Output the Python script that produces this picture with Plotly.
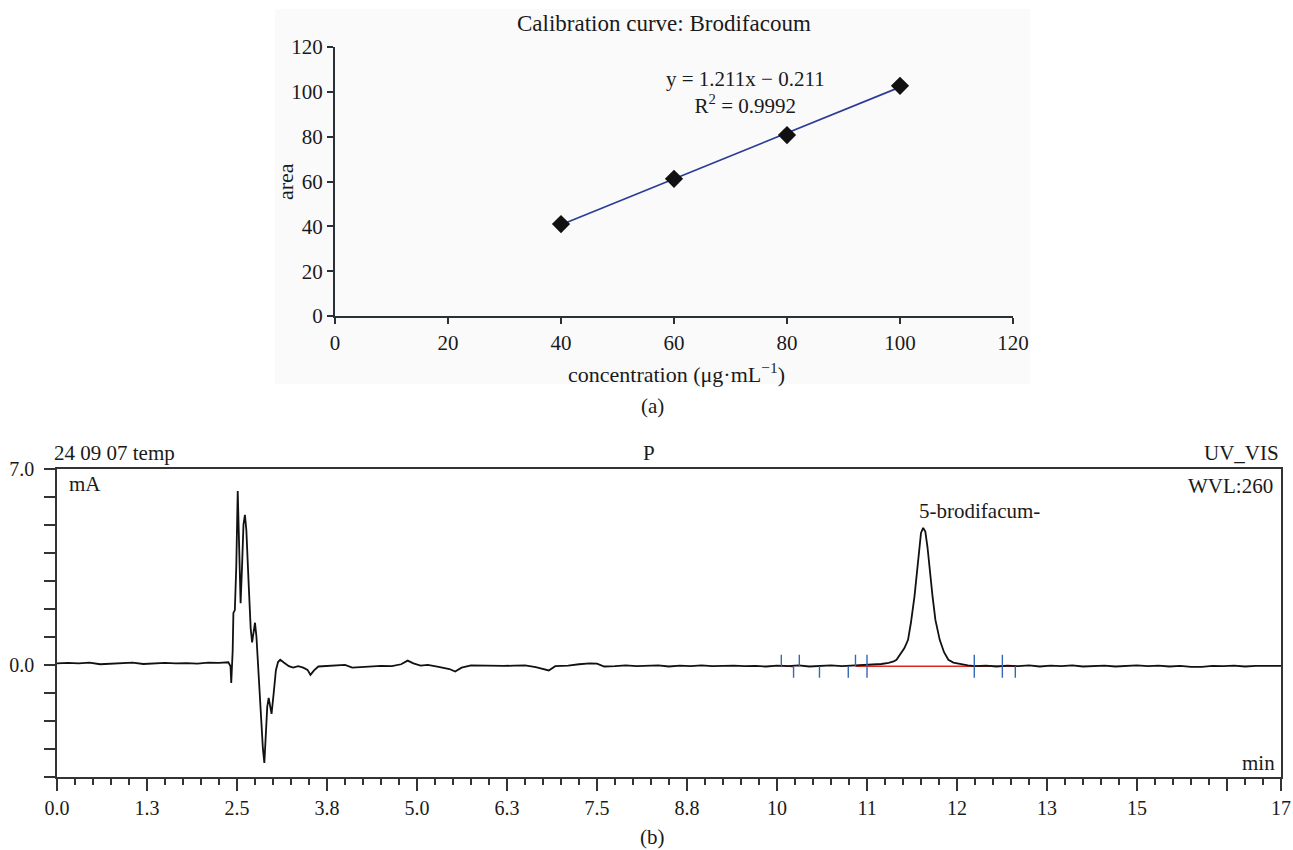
import numpy as np
import plotly.graph_objects as go

# ---------------- data ----------------
# (a) calibration curve
conc = [40, 60, 80, 100]
area = [41.0, 61.2, 80.7, 102.7]
eq_text = "y = 1.211x − 0.211"
r2_text = "R<sup>2</sup> = 0.9992"

# (b) chromatogram (time in min, signal in mA)
chrom_t = [0.00, 0.15, 0.30, 0.45, 0.60, 0.75, 0.90, 1.05, 1.20, 1.35, 1.50, 1.65, 1.80, 1.95,
           2.10, 2.25, 2.38, 2.41, 2.42, 2.44, 2.45, 2.47, 2.49, 2.51, 2.53, 2.55, 2.57, 2.59,
           2.61, 2.63, 2.66, 2.69, 2.71, 2.73, 2.75, 2.77, 2.80, 2.83, 2.86, 2.88, 2.90, 2.92,
           2.94, 2.96, 2.98, 3.01, 3.04, 3.07, 3.10, 3.15, 3.22, 3.28, 3.35, 3.42, 3.48, 3.52,
           3.57, 3.63, 3.75, 3.90, 4.00, 4.10, 4.20, 4.35, 4.50, 4.65, 4.78, 4.87, 4.95, 5.05,
           5.15, 5.30, 5.45, 5.53, 5.62, 5.75, 5.90, 6.05, 6.20, 6.35, 6.50, 6.65, 6.75, 6.83,
           6.92, 7.10, 7.25, 7.40, 7.50, 7.60, 7.75, 7.90, 8.05, 8.20, 8.35, 8.50, 8.65, 8.80,
           8.95, 9.10, 9.25, 9.40, 9.55, 9.70, 9.85, 10.00, 10.15, 10.30, 10.45, 10.60, 10.75,
           10.90, 11.05, 11.20, 11.35, 11.45, 11.55, 11.62, 11.66, 11.72, 11.77, 11.82, 11.86,
           11.91, 11.94, 11.97, 12.00, 12.03, 12.06, 12.09, 12.125, 12.16, 12.20, 12.26, 12.32,
           12.38, 12.45, 12.55, 12.65, 12.75, 12.90, 13.05, 13.20, 13.35, 13.50, 13.65, 13.80,
           13.95, 14.10, 14.25, 14.40, 14.55, 14.70, 14.85, 15.00, 15.15, 15.30, 15.45, 15.60,
           15.75, 15.90, 16.05, 16.20, 16.35, 16.50, 16.65, 16.80, 17.00]
chrom_v = [0.05, 0.07, 0.05, 0.08, 0.02, 0.04, 0.05, 0.08, 0.03, 0.04, 0.07, 0.05, 0.06, 0.04,
           0.08, 0.07, 0.09, -0.05, -0.65, 0.50, 1.85, 1.95, 3.50, 6.20, 4.00, 2.20, 3.50, 5.00,
           5.35, 4.80, 3.00, 1.30, 0.80, 1.20, 1.50, 1.00, -0.50, -1.80, -3.00, -3.50, -2.50, -1.50,
           -1.18, -1.50, -1.75, -1.00, -0.20, 0.10, 0.18, 0.08, -0.05, -0.10, -0.05, -0.10, -0.18, -0.36,
           -0.20, -0.06, -0.04, -0.02, 0.00, -0.10, -0.08, -0.05, -0.04, -0.05, 0.02, 0.15, 0.05, -0.03,
           0.00, -0.07, -0.15, -0.24, -0.10, -0.02, -0.03, -0.05, -0.04, -0.03, -0.02, -0.08, -0.15, -0.20,
           -0.05, -0.03, 0.02, 0.05, 0.04, -0.06, -0.05, -0.02, -0.05, -0.04, -0.02, -0.06, -0.03, -0.05,
           -0.02, -0.05, -0.04, -0.03, -0.05, -0.04, -0.06, -0.03, -0.05, -0.02, -0.06, -0.03, -0.02,
           -0.05, -0.03, -0.02, 0.00, 0.03, 0.07, 0.12, 0.18, 0.40, 0.60, 0.89, 1.50,
           2.45, 3.26, 4.10, 4.70, 4.88, 4.75, 4.20, 3.26, 2.45, 1.60, 0.89, 0.45,
           0.18, 0.08, 0.02, -0.02, -0.05, -0.03, -0.06, -0.03, -0.05, -0.02, -0.06, -0.03,
           -0.05, -0.02, -0.06, -0.04, -0.03, -0.06, -0.04, -0.02, -0.05, -0.03, -0.06, -0.04,
           -0.07, -0.07, -0.04, -0.05, -0.03, -0.06, -0.04, -0.03, -0.04]

# integration baseline segments (red)
base_t0 = [10.06, 11.09]
base_t1 = [10.23, 13.31]
base_v0 = [-0.02, -0.05]
base_v1 = [-0.07, -0.05]

# integration event marks (blue): time, lower end, upper end
mark_t = [10.06, 10.23, 10.31, 10.59, 10.99, 11.09, 11.25, 12.74, 13.13, 13.31]
mark_lo = [-0.05, -0.46, -0.05, -0.46, -0.46, -0.05, -0.46, -0.46, -0.46, -0.46]
mark_hi = [0.36, -0.05, 0.36, -0.05, -0.05, 0.36, 0.36, 0.36, 0.36, -0.05]

# chromatogram axis ticks
x_tickvals = [0, 1.25, 2.5, 3.75, 5.0, 6.25, 7.5, 8.75, 10.0, 11.25, 12.5, 13.75, 15.0, 16.25, 17.0]
x_ticktext = ["0.0", "1.3", "2.5", "3.8", "5.0", "6.3", "7.5", "8.8", "10", "11", "12", "13", "15", "", "17"]
y_tickvals = [-4, -3, -2, -1, 0, 1, 2, 3, 4, 5, 6, 7]
y_ticktext = ["", "", "", "", "0.0", "", "", "", "", "", "", "7.0"]

# ---------------- figure ----------------
W, H = 1293, 850
def px(x):
    return x / W
def py(y):
    return 1 - y / H

SERIF = "Liberation Serif, Times New Roman, serif"
INK = "#1a1a1a"

fig = go.Figure()

# fit line from the calibration data
slope, intercept = np.polyfit(conc, area, 1)
fx = [min(conc), max(conc)]
fy = [slope * v + intercept for v in fx]
fig.add_trace(go.Scatter(x=fx, y=fy, mode="lines", line=dict(color="#2c3c96", width=1.7),
                         xaxis="x", yaxis="y", showlegend=False, hoverinfo="skip"))
fig.add_trace(go.Scatter(x=conc, y=area, mode="markers",
                         marker=dict(symbol="diamond", size=14, color="#111111"),
                         xaxis="x", yaxis="y", showlegend=False, cliponaxis=False))

# chromatogram
seg_x, seg_y = [], []
for a, b, c, d in zip(base_t0, base_t1, base_v0, base_v1):
    seg_x += [a, b, None]
    seg_y += [c, d, None]
fig.add_trace(go.Scatter(x=seg_x, y=seg_y, mode="lines", line=dict(color="#e0281e", width=1.4),
                         xaxis="x2", yaxis="y2", showlegend=False, hoverinfo="skip"))
fig.add_trace(go.Scatter(x=chrom_t, y=chrom_v, mode="lines", line=dict(color="#111111", width=1.8),
                         xaxis="x2", yaxis="y2", showlegend=False))
mx, my = [], []
for t, lo, hi in zip(mark_t, mark_lo, mark_hi):
    mx += [t, t, None]
    my += [lo, hi, None]
fig.add_trace(go.Scatter(x=mx, y=my, mode="lines", line=dict(color="#3566b8", width=1.4),
                         xaxis="x2", yaxis="y2", showlegend=False, hoverinfo="skip"))

axis_a = dict(showgrid=False, zeroline=False, showline=True, linecolor="#2b2f36", linewidth=2,
              ticks="outside", ticklen=6, tickwidth=2, tickcolor="#2b2f36",
              tickfont=dict(family=SERIF, size=21, color=INK))
axis_b = dict(showgrid=False, zeroline=False, showline=True, linecolor="#333333", linewidth=1.5,
              mirror=True, ticks="outside", tickwidth=1.5, tickcolor="#333333",
              tickfont=dict(family=SERIF, size=20, color=INK))

fig.update_layout(
    width=W, height=H, margin=dict(l=0, r=0, t=0, b=0, autoexpand=False),
    paper_bgcolor="white", plot_bgcolor="rgba(0,0,0,0)",
    xaxis=dict(axis_a, domain=[px(335), px(1013)], range=[0, 120], dtick=20, anchor="y",
               ticklabelstandoff=1),
    yaxis=dict(axis_a, domain=[py(316), py(47)], range=[0, 120], dtick=20, anchor="x",
               ticklabelstandoff=0),
    xaxis2=dict(axis_b, domain=[px(57), px(1281)], range=[0, 17], anchor="y2",
                tickmode="array", tickvals=x_tickvals, ticktext=x_ticktext, ticklen=12,
                minor=dict(ticks="outside", dtick=0.25, tick0=0, ticklen=6, tickwidth=1.5,
                           tickcolor="#333333")),
    yaxis2=dict(axis_b, domain=[py(777), py(468.5)], range=[-4, 7], anchor="x2",
                tickmode="array", tickvals=y_tickvals, ticktext=y_ticktext, ticklen=11,
                ticklabelstandoff=6),
    shapes=[dict(type="rect", xref="paper", yref="paper", x0=px(275), x1=px(1030),
                 y0=py(384), y1=py(9), fillcolor="#fafafa", line=dict(width=0), layer="below")],
)

def ann(text, x, y, xanchor="center", size=21, angle=0):
    fig.add_annotation(text=text, x=px(x), y=py(y), xref="paper", yref="paper",
                       xanchor=xanchor, yanchor="middle", showarrow=False, textangle=angle,
                       font=dict(family=SERIF, size=size, color=INK))

ann("Calibration curve: Brodifacoum", 664, 23, size=23)
fig.add_annotation(text=eq_text + "<br>" + r2_text, x=px(745), y=py(92), xref="paper", yref="paper",
                   xanchor="center", yanchor="middle", showarrow=False, align="center",
                   font=dict(family=SERIF, size=21, color=INK))
ann("area", 285, 182, size=22, angle=-90)
ann("concentration (μg·mL<sup>−1</sup>)", 677, 373, size=22)
ann("(a)", 652, 406)
ann("24 09 07 temp", 52, 453, xanchor="left")
ann("P", 649, 453)
ann("UV_VIS", 1281, 453, xanchor="right")
ann("mA", 67, 484, xanchor="left")
ann("WVL:260", 1275, 486, xanchor="right")
ann("5-brodifacum-", 979, 511)
ann("min", 1277, 763, xanchor="right")
ann("(b)", 652, 837)

fig.write_html("out.html", config={"displayModeBar": False},
               post_script="document.body.style.margin='0';")
